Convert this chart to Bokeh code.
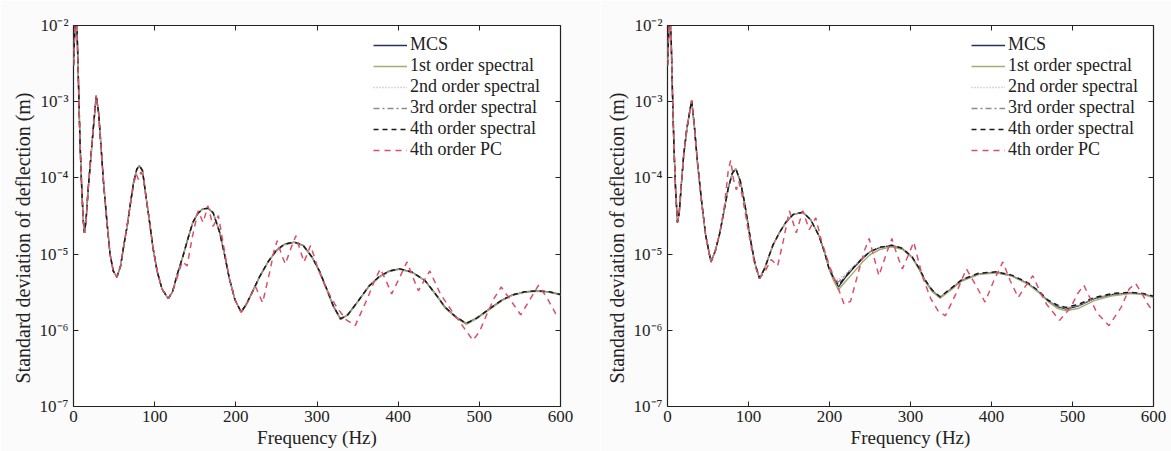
from bokeh.plotting import figure
from bokeh.models import (Range1d, FixedTicker, LinearAxis, LogAxis,
                          CustomJSTickFormatter, Legend, LegendItem, Title)
from bokeh.layouts import row
from bokeh.embed import file_html
from bokeh.resources import INLINE

# ---------------- data ----------------
x_ticks = [0, 100, 200, 300, 400, 500, 600]
y_ticks = [1e-7, 1e-6, 1e-5, 1e-4, 1e-3, 1e-2]
labels = ["MCS", "1st order spectral", "2nd order spectral",
          "3rd order spectral", "4th order spectral", "4th order PC"]
x_title = "Frequency (Hz)"
y_title = "Standard deviation of deflection (m)"

# ---- left panel ----
freq_l = [0, 1.5, 3, 4.5, 6, 8, 10, 12, 13.5, 15.5, 18, 20.5, 24, 28, 31, 34, 37, 41, 45, 49,
          53.5, 58, 62, 66, 70, 74, 78, 81, 85, 89, 93, 98, 103, 109, 116.7, 122, 128, 135, 141,
          147, 153, 159, 165.7, 172, 180, 186, 192, 199, 206.5, 213, 221, 229, 240, 250, 260,
          272, 283, 294, 303, 311, 320, 329, 338, 351, 364, 376, 389, 402, 417, 433, 446, 458,
          471, 484, 497, 515, 528, 540, 556, 572, 586, 600]
mcs_l = [3e-3, 8e-3, 1.3e-2, 8e-3, 2e-3, 3e-4, 8e-5, 2.8e-5, 1.9e-5, 2.8e-5, 7e-5, 1.45e-4, 4e-4,
         1.2e-3, 7e-4, 2.5e-4, 8.7e-5, 2.8e-5, 1e-5, 6e-6,
         5e-6, 7e-6, 1.3e-5, 2.3e-5, 4.5e-5, 8.7e-5, 1.3e-4, 1.45e-4, 1.25e-4, 6e-5, 3e-5, 1.2e-5,
         6e-6, 3.5e-6, 2.6e-6, 3.2e-6, 5.5e-6, 9.5e-6, 1.6e-5,
         2.6e-5, 3.4e-5, 3.9e-5, 4e-5, 3.5e-5, 1.94e-5, 1e-5, 4.8e-6, 2.5e-6, 1.74e-6, 2.2e-6,
         3.3e-6, 5e-6, 8e-6, 1.12e-5, 1.35e-5,
         1.44e-5, 1.3e-5, 9.1e-6, 6e-6, 3.7e-6, 2.1e-6, 1.41e-6, 1.6e-6, 2.45e-6, 3.8e-6, 5e-6,
         6e-6, 6.4e-6, 5.8e-6, 4.5e-6, 3e-6, 2e-6,
         1.5e-6, 1.23e-6, 1.45e-6, 2e-6, 2.5e-6, 2.9e-6, 3.2e-6, 3.3e-6, 3.2e-6, 2.95e-6]
spec1_l = [3e-3, 8e-3, 1.3e-2, 8e-3, 2e-3, 3e-4, 8e-5, 2.8e-5, 1.9e-5, 2.8e-5, 7e-5, 1.45e-4, 4e-4,
           1.2e-3, 7e-4, 2.5e-4, 8.7e-5, 2.8e-5, 1e-5, 6e-6,
           5e-6, 7e-6, 1.3e-5, 2.3e-5, 4.5e-5, 8.7e-5, 1.3e-4, 1.45e-4, 1.25e-4, 6e-5, 3e-5, 1.2e-5,
           6e-6, 3.5e-6, 2.6e-6, 3.2e-6, 5.5e-6, 9.5e-6, 1.6e-5,
           2.6e-5, 3.4e-5, 3.9e-5, 4e-5, 3.5e-5, 1.94e-5, 1e-5, 4.8e-6, 2.5e-6, 1.7e-6, 2.15e-6,
           3.25e-6, 4.9e-6, 7.9e-6, 1.1e-5, 1.33e-5,
           1.42e-5, 1.29e-5, 9e-6, 5.9e-6, 3.6e-6, 2.05e-6, 1.38e-6, 1.58e-6, 2.4e-6, 3.75e-6, 4.9e-6,
           5.9e-6, 6.3e-6, 5.75e-6, 4.45e-6, 2.95e-6, 1.95e-6,
           1.47e-6, 1.2e-6, 1.42e-6, 1.95e-6, 2.45e-6, 2.85e-6, 3.15e-6, 3.25e-6, 3.15e-6, 2.9e-6]
spec2_l = [3e-3, 8e-3, 1.3e-2, 8e-3, 2e-3, 3e-4, 8e-5, 2.8e-5, 1.9e-5, 2.8e-5, 7e-5, 1.45e-4, 4e-4,
           1.2e-3, 7e-4, 2.5e-4, 8.7e-5, 2.8e-5, 1e-5, 6e-6,
           5e-6, 7e-6, 1.3e-5, 2.3e-5, 4.5e-5, 8.7e-5, 1.3e-4, 1.45e-4, 1.25e-4, 6e-5, 3e-5, 1.2e-5,
           6e-6, 3.5e-6, 2.6e-6, 3.2e-6, 5.5e-6, 9.5e-6, 1.6e-5,
           2.6e-5, 3.4e-5, 3.9e-5, 4e-5, 3.5e-5, 1.94e-5, 1e-5, 4.8e-6, 2.5e-6, 1.76e-6, 2.2e-6,
           3.3e-6, 5e-6, 8e-6, 1.12e-5, 1.35e-5,
           1.44e-5, 1.3e-5, 9.1e-6, 6e-6, 3.7e-6, 2.1e-6, 1.43e-6, 1.62e-6, 2.45e-6, 3.8e-6, 5e-6,
           6e-6, 6.4e-6, 5.8e-6, 4.5e-6, 3e-6, 2e-6,
           1.5e-6, 1.25e-6, 1.47e-6, 2e-6, 2.5e-6, 2.9e-6, 3.2e-6, 3.3e-6, 3.2e-6, 2.95e-6]
spec3_l = [3e-3, 8e-3, 1.3e-2, 8e-3, 2e-3, 3e-4, 8e-5, 2.8e-5, 1.9e-5, 2.8e-5, 7e-5, 1.45e-4, 4e-4,
           1.2e-3, 7e-4, 2.5e-4, 8.7e-5, 2.8e-5, 1e-5, 6e-6,
           5e-6, 7e-6, 1.3e-5, 2.3e-5, 4.5e-5, 8.7e-5, 1.3e-4, 1.45e-4, 1.25e-4, 6e-5, 3e-5, 1.2e-5,
           6e-6, 3.5e-6, 2.6e-6, 3.2e-6, 5.5e-6, 9.5e-6, 1.6e-5,
           2.6e-5, 3.4e-5, 3.9e-5, 4e-5, 3.5e-5, 1.94e-5, 1e-5, 4.8e-6, 2.5e-6, 1.75e-6, 2.2e-6,
           3.3e-6, 5e-6, 8e-6, 1.12e-5, 1.35e-5,
           1.44e-5, 1.3e-5, 9.1e-6, 6e-6, 3.7e-6, 2.1e-6, 1.42e-6, 1.61e-6, 2.45e-6, 3.8e-6, 5e-6,
           6e-6, 6.4e-6, 5.8e-6, 4.5e-6, 3e-6, 2e-6,
           1.5e-6, 1.24e-6, 1.46e-6, 2e-6, 2.5e-6, 2.9e-6, 3.2e-6, 3.3e-6, 3.2e-6, 2.95e-6]
spec4_l = [3e-3, 8e-3, 1.3e-2, 8e-3, 2e-3, 3e-4, 8e-5, 2.8e-5, 1.9e-5, 2.8e-5, 7e-5, 1.45e-4, 4e-4,
           1.2e-3, 7e-4, 2.5e-4, 8.7e-5, 2.8e-5, 1e-5, 6e-6,
           5e-6, 7e-6, 1.3e-5, 2.3e-5, 4.5e-5, 8.7e-5, 1.3e-4, 1.45e-4, 1.25e-4, 6e-5, 3e-5, 1.2e-5,
           6e-6, 3.5e-6, 2.6e-6, 3.2e-6, 5.5e-6, 9.5e-6, 1.6e-5,
           2.6e-5, 3.4e-5, 3.9e-5, 4e-5, 3.5e-5, 1.94e-5, 1e-5, 4.8e-6, 2.5e-6, 1.74e-6, 2.2e-6,
           3.3e-6, 5e-6, 8e-6, 1.12e-5, 1.35e-5,
           1.44e-5, 1.3e-5, 9.1e-6, 6e-6, 3.7e-6, 2.1e-6, 1.41e-6, 1.6e-6, 2.45e-6, 3.8e-6, 5e-6,
           6e-6, 6.4e-6, 5.8e-6, 4.5e-6, 3e-6, 2e-6,
           1.5e-6, 1.23e-6, 1.45e-6, 2e-6, 2.5e-6, 2.9e-6, 3.2e-6, 3.3e-6, 3.2e-6, 2.95e-6]
freq_pc_l = [0, 1.5, 3, 4.5, 6, 8, 10, 12, 13.5, 15.5, 18, 20.5, 24, 28, 31, 34, 37, 41, 45, 49,
             53.5, 58, 62, 66, 70, 74, 77, 80, 83, 86, 89, 93, 98, 103, 109, 116.7, 122, 128, 134,
             140, 146, 153.5, 159.6, 165.7, 172, 178.5, 186, 192, 199, 206.5, 215, 224, 233, 242,
             247, 251, 256, 261, 268, 274, 279, 284, 288, 292, 297, 301, 311, 322, 335, 347, 362,
             371, 378, 385, 392, 402, 411, 418, 425, 432, 439, 452, 466, 478, 492, 500, 509, 518,
             527, 535, 551, 562, 573, 584, 594, 600]
pc_l = [3e-3, 8e-3, 1.3e-2, 8e-3, 2e-3, 3e-4, 8e-5, 2.8e-5, 1.9e-5, 2.8e-5, 7e-5, 1.45e-4, 4e-4,
        1.2e-3, 7e-4, 2.5e-4, 8.7e-5, 2.8e-5, 1e-5, 6e-6,
        5e-6, 7e-6, 1.3e-5, 2.3e-5, 4.5e-5, 8e-5, 1.15e-4, 9.5e-5, 1.2e-4, 1.05e-4, 6e-5, 3e-5,
        1.2e-5, 6e-6, 3.5e-6, 2.6e-6, 3.2e-6, 5e-6, 8e-6,
        7e-6, 1.6e-5, 3.7e-5, 2.6e-5, 4.3e-5, 2.3e-5, 3.2e-5, 1.1e-5, 4.8e-6, 2.5e-6, 1.74e-6,
        2.4e-6, 3.8e-6, 2.3e-6, 6e-6,
        1.1e-5, 1.5e-5, 1e-5, 7.4e-6, 1.2e-5, 1.74e-5, 1.15e-5, 7.9e-6, 1e-5, 1.3e-5, 9e-6, 6.5e-6,
        3.6e-6, 2.2e-6, 1.4e-6, 1.15e-6, 2.6e-6,
        4.5e-6, 6.4e-6, 4.5e-6, 3e-6, 5e-6, 7.9e-6, 5e-6, 3.3e-6, 4.5e-6, 6e-6, 3e-6, 1.8e-6,
        1.2e-6, 7.4e-7, 9.5e-7, 1.6e-6, 2.6e-6,
        3.7e-6, 2.8e-6, 1.6e-6, 2.5e-6, 3.9e-6, 2.6e-6, 1.66e-6, 1.6e-6]

# ---- right panel ----
freq_r = [0, 1.5, 3, 4.5, 6, 8, 10, 12.3, 14.5, 17, 20, 24, 29.8, 33, 37, 42, 47, 53.6, 59, 64.6,
          70, 74.8, 80, 84.3, 90, 95, 103, 108, 113.6, 120, 130, 138, 146, 155, 167, 177, 187, 194,
          199.5, 205, 211, 220, 230, 240.5, 250, 262, 277, 290, 302, 310, 318, 327, 336.6, 350,
          363, 384, 406, 425, 445, 458, 469.5, 481, 492, 508, 527, 550, 572, 587, 600]
mcs_r = [3e-3, 8e-3, 1.3e-2, 7e-3, 1.5e-3, 2.5e-4, 7e-5, 2.6e-5, 3.5e-5, 8e-5, 2e-4, 4.5e-4, 1.04e-3,
         5e-4, 1.6e-4, 5e-5, 1.8e-5, 7.9e-6, 1.1e-5, 1.9e-5,
         3.8e-5, 7.2e-5, 1.15e-4, 1.32e-4, 9e-5, 4.8e-5, 1.44e-5, 7.5e-6, 4.8e-6, 6.5e-6, 1.3e-5,
         1.9e-5, 2.6e-5, 3.3e-5, 3.55e-5, 2.8e-5, 1.74e-5, 1.05e-5,
         6.4e-6, 4.8e-6, 3.7e-6, 5e-6, 6.6e-6, 8.7e-6, 1.07e-5, 1.22e-5, 1.3e-5, 1.18e-5, 9.1e-6,
         6.6e-6, 4.5e-6, 3.3e-6, 2.7e-6, 3.5e-6,
         4.5e-6, 5.5e-6, 5.75e-6, 5.2e-6, 4.1e-6, 3.2e-6, 2.45e-6, 2.05e-6, 1.9e-6, 2.1e-6, 2.6e-6,
         2.95e-6, 3.1e-6, 3e-6, 2.75e-6]
spec1_r = [3e-3, 8e-3, 1.3e-2, 7e-3, 1.5e-3, 2.5e-4, 7e-5, 2.6e-5, 3.5e-5, 8e-5, 2e-4, 4.5e-4, 1.04e-3,
           5e-4, 1.6e-4, 5e-5, 1.8e-5, 7.9e-6, 1.1e-5, 1.9e-5,
           3.8e-5, 7.2e-5, 1.15e-4, 1.32e-4, 9e-5, 4.8e-5, 1.44e-5, 7.5e-6, 4.8e-6, 6.5e-6, 1.3e-5,
           1.9e-5, 2.6e-5, 3.3e-5, 3.55e-5, 2.8e-5, 1.74e-5, 1.05e-5,
           6.4e-6, 4.5e-6, 3.4e-6, 4.4e-6, 5.8e-6, 7.8e-6, 9.8e-6, 1.15e-5, 1.25e-5, 1.15e-5, 9e-6,
           6.5e-6, 4.4e-6, 3.2e-6, 2.65e-6, 3.4e-6,
           4.4e-6, 5.4e-6, 5.7e-6, 5.15e-6, 4.05e-6, 3.15e-6, 2.4e-6, 1.95e-6, 1.8e-6, 1.95e-6, 2.45e-6,
           2.85e-6, 3.05e-6, 2.95e-6, 2.7e-6]
spec2_r = [3e-3, 8e-3, 1.3e-2, 7e-3, 1.5e-3, 2.5e-4, 7e-5, 2.6e-5, 3.5e-5, 8e-5, 2e-4, 4.5e-4, 1.04e-3,
           5e-4, 1.6e-4, 5e-5, 1.8e-5, 7.9e-6, 1.1e-5, 1.9e-5,
           3.8e-5, 7.2e-5, 1.15e-4, 1.32e-4, 9e-5, 4.8e-5, 1.44e-5, 7.5e-6, 4.8e-6, 6.5e-6, 1.3e-5,
           1.9e-5, 2.6e-5, 3.3e-5, 3.55e-5, 2.8e-5, 1.74e-5, 1.05e-5,
           6.6e-6, 5e-6, 4.6e-6, 5.5e-6, 7e-6, 8.9e-6, 1.08e-5, 1.22e-5, 1.3e-5, 1.18e-5, 9.1e-6,
           6.6e-6, 4.5e-6, 3.3e-6, 2.75e-6, 3.55e-6,
           4.55e-6, 5.5e-6, 5.75e-6, 5.2e-6, 4.1e-6, 3.2e-6, 2.45e-6, 2.1e-6, 1.97e-6, 2.15e-6, 2.65e-6,
           3e-6, 3.1e-6, 3e-6, 2.75e-6]
spec3_r = [3e-3, 8e-3, 1.3e-2, 7e-3, 1.5e-3, 2.5e-4, 7e-5, 2.6e-5, 3.5e-5, 8e-5, 2e-4, 4.5e-4, 1.04e-3,
           5e-4, 1.6e-4, 5e-5, 1.8e-5, 7.9e-6, 1.1e-5, 1.9e-5,
           3.8e-5, 7.2e-5, 1.15e-4, 1.32e-4, 9e-5, 4.8e-5, 1.44e-5, 7.5e-6, 4.8e-6, 6.5e-6, 1.3e-5,
           1.9e-5, 2.6e-5, 3.3e-5, 3.55e-5, 2.8e-5, 1.74e-5, 1.05e-5,
           6.5e-6, 4.9e-6, 4.3e-6, 5.3e-6, 6.8e-6, 8.8e-6, 1.07e-5, 1.22e-5, 1.3e-5, 1.18e-5, 9.1e-6,
           6.6e-6, 4.5e-6, 3.3e-6, 2.72e-6, 3.5e-6,
           4.5e-6, 5.5e-6, 5.75e-6, 5.2e-6, 4.1e-6, 3.2e-6, 2.45e-6, 2.08e-6, 1.95e-6, 2.12e-6, 2.62e-6,
           2.97e-6, 3.1e-6, 3e-6, 2.75e-6]
spec4_r = [3e-3, 8e-3, 1.3e-2, 7e-3, 1.5e-3, 2.5e-4, 7e-5, 2.6e-5, 3.5e-5, 8e-5, 2e-4, 4.5e-4, 1.04e-3,
           5e-4, 1.6e-4, 5e-5, 1.8e-5, 7.9e-6, 1.1e-5, 1.9e-5,
           3.8e-5, 7.2e-5, 1.15e-4, 1.32e-4, 9e-5, 4.8e-5, 1.44e-5, 7.5e-6, 4.8e-6, 6.5e-6, 1.3e-5,
           1.9e-5, 2.6e-5, 3.3e-5, 3.55e-5, 2.8e-5, 1.74e-5, 1.05e-5,
           6.4e-6, 4.9e-6, 3.9e-6, 5.1e-6, 6.7e-6, 8.8e-6, 1.08e-5, 1.23e-5, 1.31e-5, 1.19e-5, 9.2e-6,
           6.7e-6, 4.6e-6, 3.35e-6, 2.75e-6, 3.55e-6,
           4.6e-6, 5.6e-6, 5.85e-6, 5.3e-6, 4.2e-6, 3.3e-6, 2.5e-6, 2.15e-6, 2e-6, 2.2e-6, 2.7e-6,
           3.05e-6, 3.15e-6, 3.05e-6, 2.8e-6]
freq_pc_r = [0, 1.5, 3, 4.5, 6, 8, 10, 12.3, 14.5, 17, 20, 24, 29.8, 33, 37, 42, 47, 53.6, 59, 64.6,
             70, 74.8, 78, 81.5, 85, 88, 92, 97, 103, 108, 113.6, 120, 128, 136, 143, 150.5, 159, 167,
             175, 183, 190, 200, 211, 218, 226, 236, 243, 249, 255, 261, 270, 277, 283, 290, 297, 304,
             310, 315, 325, 334, 343, 356, 369, 380, 392, 403, 414, 423, 433, 442, 451, 460, 468, 484,
             498, 506, 514, 522, 530, 545, 560, 570, 578, 586, 593, 600]
pc_r = [3e-3, 8e-3, 1.3e-2, 7e-3, 1.5e-3, 2.5e-4, 7e-5, 2.6e-5, 3.5e-5, 8e-5, 2e-4, 4.5e-4, 1.04e-3,
        5e-4, 1.6e-4, 5e-5, 1.8e-5, 7.9e-6, 1.1e-5, 1.9e-5,
        4e-5, 1.2e-4, 1.7e-4, 9.5e-5, 7e-5, 9e-5, 6e-5, 3e-5, 1.3e-5, 7e-6, 4.8e-6, 5.8e-6, 8.5e-6,
        7e-6, 1.5e-5, 3.7e-5, 1.9e-5, 3.7e-5,
        2.1e-5, 3e-5, 1.5e-5, 7e-6, 3.5e-6, 2.2e-6, 2.4e-6, 6e-6, 1.1e-5, 1.6e-5, 9e-6, 5.2e-6,
        1e-5, 1.6e-5, 1e-5, 6.4e-6, 9.5e-6, 1.44e-5,
        8e-6, 5e-6, 2.6e-6, 1.8e-6, 1.55e-6, 3e-6, 6.4e-6, 4e-6, 2.35e-6, 4.5e-6, 7.9e-6, 4.5e-6,
        2.7e-6, 3.8e-6, 5.2e-6, 3.2e-6, 2.2e-6, 1.35e-6,
        2e-6, 3e-6, 3.9e-6, 2.6e-6, 1.7e-6, 1.15e-6, 2e-6, 3.5e-6, 4.1e-6, 3e-6, 2.2e-6, 1.74e-6]

# ---------------- styling ----------------
FONT = "Liberation Serif"
TXT = "#222222"
BG = "#fbfbfb"
styles = [
    dict(line_color="#27325e", line_width=1.3),
    dict(line_color="#a9ad70", line_width=1.5),
    dict(line_color="#caa9b4", line_width=1.3, line_dash="1 2"),
    dict(line_color="#8c8c8c", line_width=1.3, line_dash="6 3 2 3"),
    dict(line_color="#1a1a1a", line_width=1.5, line_dash="5 4"),
    dict(line_color="#d9506b", line_width=1.5, line_dash="6 5"),
]

SUP_JS = r"""
const s = {"-":"\u207b","0":"\u2070","1":"\u00b9","2":"\u00b2","3":"\u00b3","4":"\u2074",
           "5":"\u2075","6":"\u2076","7":"\u2077","8":"\u2078","9":"\u2079"};
const e = Math.round(Math.log10(tick));
return "10" + String(e).split("").map(c => s[c]).join("");
"""


def style_axis(ax, show_labels):
    ax.major_tick_in = 5
    ax.major_tick_out = 0
    ax.minor_tick_line_color = None
    ax.major_tick_line_color = "#222222"
    ax.axis_line_color = None
    ax.major_label_text_font = FONT
    ax.major_label_text_font_size = "17px"
    ax.major_label_text_color = TXT
    ax.axis_label_text_font = FONT
    ax.axis_label_text_font_style = "normal"
    ax.axis_label_text_color = TXT
    if not show_labels:
        ax.formatter = CustomJSTickFormatter(code="return ''")
        ax.major_label_standoff = 0


def panel(freq, series, freq_pc, pc, width, border_left, border_right, legend_x):
    p = figure(width=width, height=451, x_range=Range1d(0, 600),
               y_range=Range1d(1e-7, 1e-2), y_axis_type="log",
               output_backend="svg", toolbar_location=None,
               min_border_left=border_left, min_border_right=border_right,
               min_border_top=25, min_border_bottom=45,
               background_fill_color="white", border_fill_color=BG)
    p.grid.visible = False
    p.outline_line_color = "#222222"
    p.outline_line_width = 1.2

    renderers = []
    for vals, st in zip(series, styles[:5]):
        renderers.append(p.line(freq, vals, **st))
    renderers.append(p.line(freq_pc, pc, **styles[5]))

    p.xaxis.ticker = FixedTicker(ticks=x_ticks)
    p.yaxis.ticker = FixedTicker(ticks=y_ticks)
    p.yaxis.formatter = CustomJSTickFormatter(code=SUP_JS)
    for ax in p.xaxis + p.yaxis:
        style_axis(ax, True)
    p.xaxis.axis_label = x_title
    p.xaxis.axis_label_text_font_size = "19px"
    p.xaxis.axis_label_standoff = 2
    p.xaxis.major_label_standoff = 4
    p.yaxis.major_label_standoff = 5

    # y title as a side title, starting a little above the frame bottom as in the original
    ytitle = Title(text=y_title, align="left", offset=23, standoff=6,
                   text_font=FONT, text_font_size="20px", text_font_style="normal",
                   text_color=TXT)
    p.add_layout(ytitle, "left")

    top = LinearAxis(ticker=FixedTicker(ticks=x_ticks))
    style_axis(top, False)
    p.add_layout(top, "above")
    right = LogAxis(ticker=FixedTicker(ticks=y_ticks))
    style_axis(right, False)
    p.add_layout(right, "right")

    items = [LegendItem(label=lab, renderers=[r]) for lab, r in zip(labels, renderers)]
    legend = Legend(items=items, location=(legend_x, 246), padding=0, margin=0,
                    spacing=0, label_standoff=3, glyph_width=34, glyph_height=20,
                    label_height=20, background_fill_alpha=0, border_line_alpha=0,
                    label_text_font=FONT, label_text_font_size="18px",
                    label_text_color=TXT)
    p.add_layout(legend)
    return p


left = panel(freq_l, [mcs_l, spec1_l, spec2_l, spec3_l, spec4_l], freq_pc_l, pc_l,
             600, 73, 40, 300)
right = panel(freq_r, [mcs_r, spec1_r, spec2_r, spec3_r, spec4_r], freq_pc_r, pc_r,
              571, 64, 18, 304)

layout = row(left, right)
open("out.html", "w").write(file_html(layout, INLINE))
